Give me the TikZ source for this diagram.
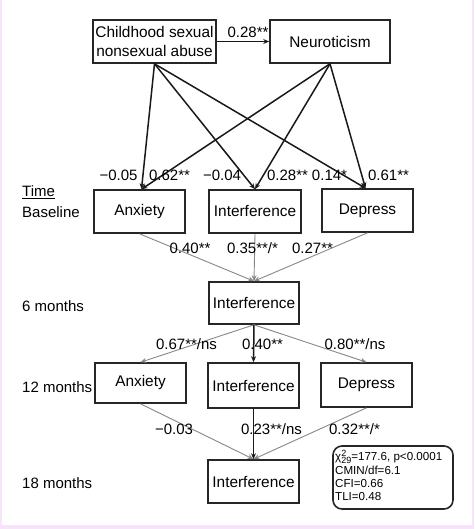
\documentclass[tikz,border=0pt]{standalone}
\usepackage{fontspec}
\setmainfont{Liberation Sans}
\usetikzlibrary{arrows.meta}
\definecolor{edgepink}{RGB}{248,228,250}
\definecolor{lgray}{RGB}{135,135,135}
\begin{document}
\begin{tikzpicture}[x=1pt,y=-1pt,
  box/.style={draw=black!85,line width=1.6pt,inner sep=2pt,font=\fontsize{15.4}{17}\selectfont,align=center},
  lab/.style={inner sep=0pt,font=\fontsize{15}{17}\selectfont},
  tlab/.style={inner sep=0pt,anchor=west,font=\fontsize{15}{17}\selectfont},
  blk/.style={draw=black!90,line width=1.5pt,-{Stealth[length=6pt,width=5pt]}},
  gry/.style={draw=lgray,line width=0.9pt,-{Stealth[length=6pt,width=5pt]}},
  drk/.style={draw=black!90,line width=1.5pt,-{Stealth[length=6pt,width=5pt]}}]
\useasboundingbox (0,0) rectangle (474,529);
\fill[white] (0,0) rectangle (474,529);
\fill[edgepink] (0,0) rectangle (2,529);
\fill[edgepink] (472,0) rectangle (474,529);
\fill[edgepink] (0,525) rectangle (474,529);
% top
\node[box,minimum width=123pt,minimum height=43pt,font=\fontsize{15.4}{19}\selectfont] (csa) at (154.5,41.5) {Childhood sexual\\nonsexual abuse};
\node[box,minimum width=120pt,minimum height=43pt] (neu) at (330,41.5) {Neuroticism};
% baseline
\node[box,minimum width=91pt,minimum height=43pt] (anxB) at (139.5,211.5) {Anxiety};
\node[box,minimum width=92pt,minimum height=43pt] (intB) at (255,211.5) {Interference};
\node[box,minimum width=91pt,minimum height=43pt] (depB) at (367.5,210.5) {Depress};
% 6 months
\node[box,minimum width=90pt,minimum height=42pt] (int6) at (254,303) {Interference};
% 12 months
\node[box,minimum width=91pt,minimum height=40pt] (anxT) at (140.5,383) {Anxiety};
\node[box,minimum width=91pt,minimum height=45pt] (intT) at (253.5,385.5) {Interference};
\node[box,minimum width=91pt,minimum height=44pt] (depT) at (366.5,385) {Depress};
% 18 months
\node[box,minimum width=91pt,minimum height=43pt] (int18) at (253.5,481.5) {Interference};

% arrows top
\draw[blk] (csa.east) -- (neu.west);
\draw[blk] (csa.south) -- ([xshift=2pt]anxB.north);
\draw[blk] (csa.south) -- (intB.north);
\draw[blk] (csa.south) -- ([xshift=-2pt]depB.north);
\draw[blk] (neu.south) -- ([xshift=2pt]anxB.north);
\draw[blk] (neu.south) -- (intB.north);
\draw[blk] (neu.south) -- ([xshift=-2pt]depB.north);
% baseline -> 6 months
\draw[gry] (anxB.south) -- (int6.north);
\draw[gry] (intB.south) -- (int6.north);
\draw[gry] (depB.south) -- (int6.north);
% 6 -> 12
\draw[gry] (int6.south) -- (anxT.north);
\draw[drk] (int6.south) -- (intT.north);
\draw[gry] (int6.south) -- (depT.north);
% 12 -> 18
\draw[gry] (anxT.south) -- (int18.north);
\draw[drk] (intT.south) -- (int18.north);
\draw[gry] (depT.south) -- (int18.north);

% labels
\node[lab] (l0) at (248,32) {0.28**};
\node[lab] (l1) at (118.5,175) {−0.05};
\node[lab] (l2) at (169.5,175) {0.62**};
\node[lab] (l3) at (222,175) {−0.04};
\node[lab] (l4) at (287.5,175) {0.28**};
\node[lab] (l5) at (329.5,175) {0.14*};
\node[lab] (l6) at (388.5,175) {0.61**};
\node[lab] (l7) at (190,248) {0.40**};
\node[lab] (l8) at (252.5,248) {0.35**/*};
\node[lab] (l9) at (312.5,248) {0.27**};
\node[lab] (l10) at (186.5,344) {0.67**/ns};
\node[lab] (l11) at (262.5,344) {0.40**};
\node[lab] (l12) at (355,344) {0.80**/ns};
\node[lab] (l13) at (174,429) {−0.03};
\node[lab] (l14) at (271.5,429) {0.23**/ns};
\node[lab] (l15) at (354.5,429) {0.32**/*};

% time labels
\node[tlab] (t0) at (22,192) {\underline{Time}};
\node[tlab] (t1) at (22,212) {Baseline};
\node[tlab] (t2) at (22,306) {6 months};
\node[tlab] (t3) at (22,387) {12 months};
\node[tlab] (t4) at (22,483) {18 months};

% stats box
\draw[line width=1.6pt,draw=black!85,rounded corners=9pt] (333,446) rectangle (453,509);
\node[anchor=north west,inner sep=0pt,align=left,font=\fontsize{11.6}{12.6}\selectfont] (stats) at (335,450)
 {χ\rlap{\raisebox{0.7ex}{\fontsize{9}{9}\selectfont 2}}\raisebox{-0.5ex}{\fontsize{9}{9}\selectfont 29}=177.6, p<0.0001\\[1.5pt]CMIN/df=6.1\\CFI=0.66\\TLI=0.48};
\end{tikzpicture}
\end{document}
